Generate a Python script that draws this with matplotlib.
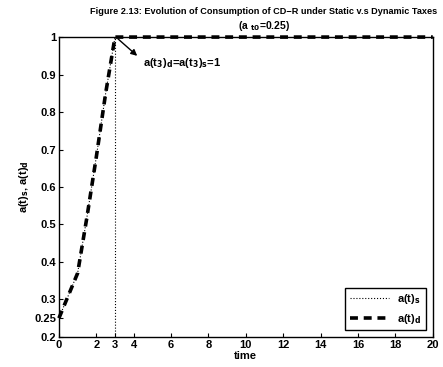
import matplotlib
matplotlib.use("Agg")
import matplotlib.pyplot as plt

matplotlib.rc("font", family="Liberation Sans", weight="bold", size=8)
matplotlib.rc("axes", titleweight="bold", labelweight="bold")
matplotlib.rc("mathtext", default="bf")

# time points and consumption paths (static / dynamic taxes)
time = [0, 0.5, 1.0, 1.5, 2.0, 2.5, 3.0, 4, 6, 8, 10, 12, 14, 16, 18, 20]
a_s = [0.25, 0.31, 0.37, 0.52, 0.68, 0.85, 1.0, 1, 1, 1, 1, 1, 1, 1, 1, 1]
a_d = [0.25, 0.31, 0.37, 0.52, 0.68, 0.85, 1.0, 1, 1, 1, 1, 1, 1, 1, 1, 1]
t3 = 3

xticks = [0, 2, 3, 4, 6, 8, 10, 12, 14, 16, 18, 20]
yticks = [0.2, 0.25, 0.3, 0.4, 0.5, 0.6, 0.7, 0.8, 0.9, 1]
ytick_labels = ["0.2", "0.25", "0.3", "0.4", "0.5", "0.6", "0.7", "0.8", "0.9", "1"]

fig = plt.figure(figsize=(4.43, 3.67), dpi=100)
ax = fig.add_axes([0.133, 0.082, 0.844, 0.817])

ax.plot(time, a_s, color="black", linestyle=":", linewidth=0.8, label="a(t)$_s$")
ax.plot(time, a_d, color="black", linestyle="--", linewidth=2.6,
        dashes=(2.2, 1.6), label="a(t)$_d$", clip_on=False, zorder=3)
ax.axvline(t3, color="black", linestyle=":", linewidth=0.8)

ax.annotate("", xy=(4.3, 0.945), xytext=(3.05, 1.0),
            arrowprops=dict(arrowstyle="-|>", color="black", lw=1,
                            mutation_scale=9))
ax.text(4.5, 0.93, "a(t$_3$)$_d$=a(t$_3$)$_s$=1", fontsize=8,
        va="center", ha="left")

ax.set_xlim(0, 20)
ax.set_ylim(0.2, 1)
ax.set_xticks(xticks)
ax.set_yticks(yticks)
ax.set_yticklabels(ytick_labels)
ax.tick_params(direction="in", length=3, width=0.8, pad=2)
for s in ax.spines.values():
    s.set_linewidth(1.0)

ax.set_xlabel("time", labelpad=1)
ax.set_ylabel("a(t)$_s$, a(t)$_d$", labelpad=2)

fig.text(0.596, 0.968, "Figure 2.13: Evolution of Consumption of CD\u2212R under Static v.s Dynamic Taxes",
         fontsize=6.6, ha="center", va="center")
fig.text(0.596, 0.93, "(a $_{t0}$=0.25)", fontsize=7.5, ha="center", va="center")

leg = ax.legend(loc="lower right", fontsize=8, fancybox=False,
                edgecolor="black", framealpha=1, handlelength=3.5,
                borderaxespad=0.6)
leg.get_frame().set_linewidth(1.0)

fig.savefig("out.png", dpi=100)
